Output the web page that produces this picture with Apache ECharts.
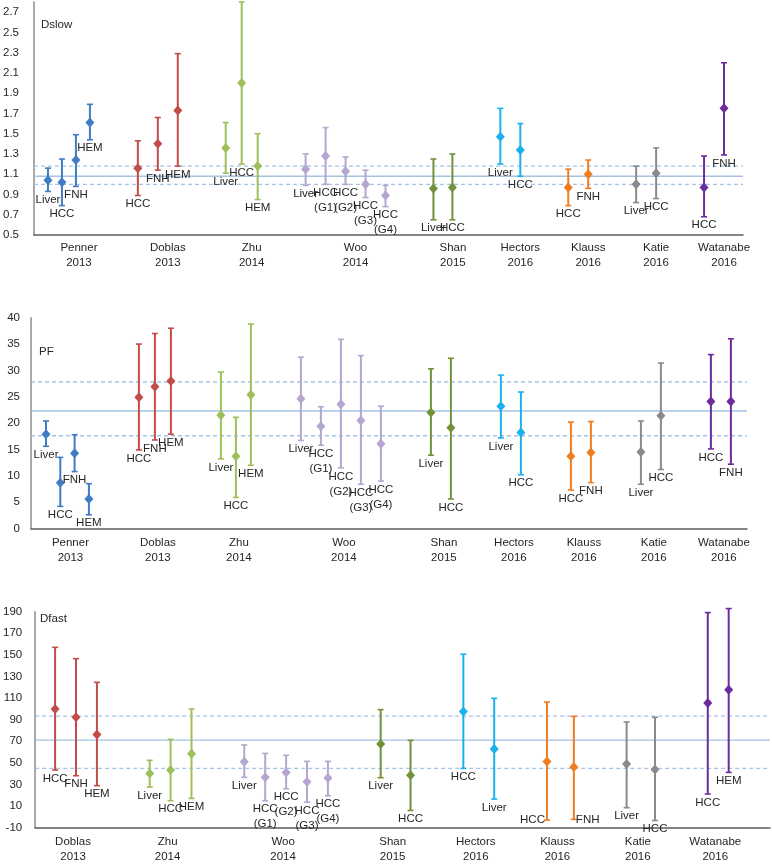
<!DOCTYPE html>
<html><head><meta charset="utf-8">
<script src="https://cdn.jsdelivr.net/npm/echarts@6/dist/echarts.min.js"></script>
<style>html,body{margin:0;padding:0;background:#fff}#c{width:772px;height:865px}</style>
</head><body><div id="c"></div>
<script>
// ---------- data ----------
const studyYears = {Penner:'2013', Doblas:'2013', Zhu:'2014', Woo:'2014', Shan:'2015', Hectors:'2016', Klauss:'2016', Katie:'2016', Watanabe:'2016'};

// Dslow
const dslowStudies = ['Penner','Doblas','Zhu','Woo','Shan','Hectors','Klauss','Katie','Watanabe'];
const dslowLabels = [['Liver','HCC','FNH','HEM'],['HCC','FNH','HEM'],['Liver','HCC','HEM'],['Liver','HCC\n(G1)','HCC\n(G2)','HCC\n(G3)','HCC\n(G4)'],['Liver','HCC'],['Liver','HCC'],['HCC','FNH'],['Liver','HCC'],['HCC','FNH']];
const dslowMean = [[1.04,1.02,1.24,1.61],[1.16,1.40,1.73],[1.36,2.00,1.18],[1.15,1.28,1.13,1.00,0.89],[0.96,0.97],[1.47,1.34],[0.97,1.10],[1.00,1.11],[0.97,1.75]];
const dslowLow  = [[0.93,0.79,0.98,1.44],[0.89,1.14,1.18],[1.11,1.20,0.85],[0.99,1.00,1.00,0.87,0.78],[0.65,0.65],[1.20,1.08],[0.79,0.96],[0.82,0.86],[0.68,1.29]];
const dslowHigh = [[1.16,1.25,1.49,1.79],[1.43,1.66,2.29],[1.61,2.80,1.50],[1.30,1.56,1.27,1.14,0.99],[1.25,1.30],[1.75,1.60],[1.15,1.24],[1.18,1.36],[1.28,2.20]];
const dslowRef = [1.00, 1.08, 1.18];
const dslowTicks = [0.5,0.7,0.9,1.1,1.3,1.5,1.7,1.9,2.1,2.3,2.5,2.7];

// PF
const pfStudies = ['Penner','Doblas','Zhu','Woo','Shan','Hectors','Klauss','Katie','Watanabe'];
const pfLabels = [['Liver','HCC','FNH','HEM'],['HCC','FNH','HEM'],['Liver','HCC','HEM'],['Liver','HCC\n(G1)','HCC\n(G2)','HCC\n(G3)','HCC\n(G4)'],['Liver','HCC'],['Liver','HCC'],['HCC','FNH'],['Liver','HCC'],['HCC','FNH']];
const pfMean = [[17.9,8.7,14.3,5.6],[24.9,26.9,28.0],[21.5,13.7,25.4],[24.6,19.4,23.6,20.5,16.1],[22.0,19.1],[23.2,18.2],[13.7,14.4],[14.5,21.4],[24.1,24.1]];
const pfLow  = [[15.6,4.2,10.8,2.6],[14.9,16.8,17.9],[13.2,5.9,12.0],[16.7,15.8,11.5,8.4,9.0],[13.9,5.6],[17.2,10.2],[7.3,8.7],[8.4,11.2],[15.1,12.2]];
const pfHigh = [[20.4,13.5,17.8,8.5],[35.0,37.0,38.0],[29.7,21.1,38.8],[32.5,23.1,35.9,32.8,23.2],[30.3,32.3],[29.1,25.9],[20.2,20.3],[20.4,31.4],[33.0,36.0]];
const pfRef = [17.6, 22.3, 27.8];
const pfTicks = [0,5,10,15,20,25,30,35,40];

// Dfast
const dfastStudies = ['Doblas','Zhu','Woo','Shan','Hectors','Klauss','Katie','Watanabe'];
const dfastLabels = [['HCC','FNH','HEM'],['Liver','HCC','HEM'],['Liver','HCC\n(G1)','HCC\n(G2)','HCC\n(G3)','HCC\n(G4)'],['Liver','HCC'],['HCC','Liver'],['HCC','FNH'],['Liver','HCC'],['HCC','HEM']];
const dfastMean = [[100.0,92.2,76.4],[40.3,43.4,58.5],[51.1,36.6,41.2,32.6,36.0],[67.5,38.5],[97.5,62.9],[51.4,46.2],[49.0,44.0],[105.5,117.8]];
const dfastLow  = [[43.4,38.1,28.9],[27.6,15.0,17.1],[36.6,15.0,26.1,13.7,19.6],[36.3,6.0],[44.9,16.5],[-3.0,-2.3],[8.5,-3.3],[21.2,41.2]];
const dfastHigh = [[157.0,146.5,124.6],[52.4,71.8,99.9],[66.6,58.8,57.0,51.4,51.4],[99.3,70.9],[150.6,109.8],[106.4,93.1],[87.9,92.2],[189.2,192.9]];
const dfastRef = [44.9, 71.0, 93.4];
const dfastTicks = [-10,10,30,50,70,90,110,130,150,170,190];

// ---------- styles / layout ----------
const studyColors = {Penner:'#3f7cc4', Doblas:'#c34c49', Zhu:'#9dc05b', Woo:'#b4a6cf', Shan:'#71923b', Hectors:'#1bb1ec', Klauss:'#ef7e22', Katie:'#8a8a8a', Watanabe:'#6d2c9d'};
const FONT = '"Liberation Sans", Arial, sans-serif';
const TXT = '#262626';
const refColor = '#a6c3e6';

const panels = [
  {title:'Dslow', studies:dslowStudies, labels:dslowLabels, mean:dslowMean, low:dslowLow, high:dslowHigh, ref:dslowRef, ticks:dslowTicks,
   min:0.5, max:2.8, fmt:v=>v.toFixed(1),
   grid:{left:33, top:2, width:710, height:233}, titleTop:18.5, yMargin:15, xMargin:5.5,
   layout:{start:14, gap:48, step:20, steps:{Penner:14, Zhu:16, Shan:19}, labelShift:10}},
  {title:'PF', studies:pfStudies, labels:pfLabels, mean:pfMean, low:pfLow, high:pfHigh, ref:pfRef, ticks:pfTicks,
   min:0, max:40, fmt:v=>String(v),
   grid:{left:31, top:317.7, width:716, height:210.8}, titleTop:345.5, yMargin:11, xMargin:7,
   layout:{start:15, gap:50, step:20, steps:{Penner:14.3, Doblas:16, Zhu:15}, labelShift:3}},
  {title:'Dfast', studies:dfastStudies, labels:dfastLabels, mean:dfastMean, low:dfastLow, high:dfastHigh, ref:dfastRef, ticks:dfastTicks,
   min:-10, max:190, fmt:v=>String(v),
   grid:{left:32, top:611.7, width:738, height:216}, titleTop:612.5, yMargin:13, xMargin:6.5,
   layout:{start:20, gap:53, step:21, steps:{Shan:30, Hectors:31, Klauss:27, Katie:28.5}, labelShift:-3}}
];
const labelSide = {'Dfast|Klauss|HCC':'left', 'Dfast|Klauss|FNH':'right'};

const grids=[], xAxes=[], yAxes=[], series=[], titles=[];

panels.forEach((p, pi) => {
  const L = p.layout;
  const items = [];
  const centers = [];
  let x = L.start;
  p.studies.forEach((s, g) => {
    const step = L.steps[s] != null ? L.steps[s] : L.step;
    const n = p.mean[g].length;
    for (let k = 0; k < n; k++) {
      items.push({x: x + k*step, study: s, label: p.labels[g][k], mean: p.mean[g][k], low: p.low[g][k], high: p.high[g][k]});
    }
    const last = x + (n-1)*step;
    centers.push((x + last)/2 + L.labelShift);
    x = last + L.gap;
  });

  grids.push(Object.assign({containLabel:false}, p.grid));
  titles.push({text:p.title, left:p.grid.left + 8, top:p.titleTop, padding:0, textStyle:{fontSize:11.5, fontWeight:'normal', color:TXT, fontFamily:FONT}});

  xAxes.push({type:'value', gridIndex:pi, min:0, max:p.grid.width,
    axisLine:{show:true, onZero:false, lineStyle:{color:'#5c5c5c', width:1.5}},
    axisTick:{show:false}, splitLine:{show:false},
    axisLabel:{customValues:centers, margin:p.xMargin, color:TXT, fontSize:11.5, lineHeight:15, fontFamily:FONT,
      formatter:function(v){
        let bi=0, bd=1e9;
        centers.forEach((c,i)=>{const d=Math.abs(c-v); if(d<bd){bd=d;bi=i;}});
        const s=p.studies[bi];
        return s + '\n' + studyYears[s];
      }}});
  yAxes.push({type:'value', gridIndex:pi, min:p.min, max:p.max,
    axisLine:{show:true, onZero:false, lineStyle:{color:'#8c8c8c', width:1.5}},
    axisTick:{show:false}, splitLine:{show:false},
    axisLabel:{customValues:p.ticks, margin:p.yMargin, color:TXT, fontSize:11.5, fontFamily:FONT, formatter:p.fmt}});

  p.ref.forEach((v, ri) => {
    series.push({type:'line', xAxisIndex:pi, yAxisIndex:pi, silent:true, symbol:'none', z:1, animation:false,
      data:[[0, v],[p.grid.width, v]],
      lineStyle:{color:refColor, width:1.3, type: ri===1 ? 'solid' : [4,3]}});
  });

  series.push({type:'custom', xAxisIndex:pi, yAxisIndex:pi, z:3, clip:false, animation:false,
    data: items.map(it => [it.x, it.low, it.high, it.mean]),
    renderItem: function(params, api){
      const it = items[params.dataIndex];
      const xv = api.value(0);
      const pl = api.coord([xv, api.value(1)]);
      const ph = api.coord([xv, api.value(2)]);
      const pm = api.coord([xv, api.value(3)]);
      const c = studyColors[it.study];
      const side = labelSide[p.title+'|'+it.study+'|'+it.label] || 'below';
      let tx = pl[0], ty = pl[1] + 1, ta = 'center', tva = 'top';
      if (side === 'left') { tx = pl[0] - 2; ty = pl[1]; ta = 'right'; tva = 'middle'; }
      if (side === 'right') { tx = pl[0] + 2; ty = pl[1]; ta = 'left'; tva = 'middle'; }
      return {type:'group', children:[
        {type:'line', shape:{x1:pl[0], y1:pl[1], x2:ph[0], y2:ph[1]}, style:{stroke:c, lineWidth:2}},
        {type:'line', shape:{x1:pl[0]-3, y1:pl[1], x2:pl[0]+3, y2:pl[1]}, style:{stroke:c, lineWidth:1.6}},
        {type:'line', shape:{x1:ph[0]-3, y1:ph[1], x2:ph[0]+3, y2:ph[1]}, style:{stroke:c, lineWidth:1.6}},
        {type:'polygon', shape:{points:[[pm[0], pm[1]-5],[pm[0]+4.5, pm[1]],[pm[0], pm[1]+5],[pm[0]-4.5, pm[1]]]}, style:{fill:c}},
        {type:'text', x:tx, y:ty, style:{text:it.label, fill:TXT, fontSize:11.5, fontFamily:FONT, align:ta, verticalAlign:tva, lineHeight:15}}
      ]};
    }});
});

const chart = echarts.init(document.getElementById('c'), null, {renderer:'canvas'});
chart.setOption({animation:false, backgroundColor:'#fff', textStyle:{fontFamily:FONT}, title:titles, grid:grids, xAxis:xAxes, yAxis:yAxes, series:series});
</script></body></html>
